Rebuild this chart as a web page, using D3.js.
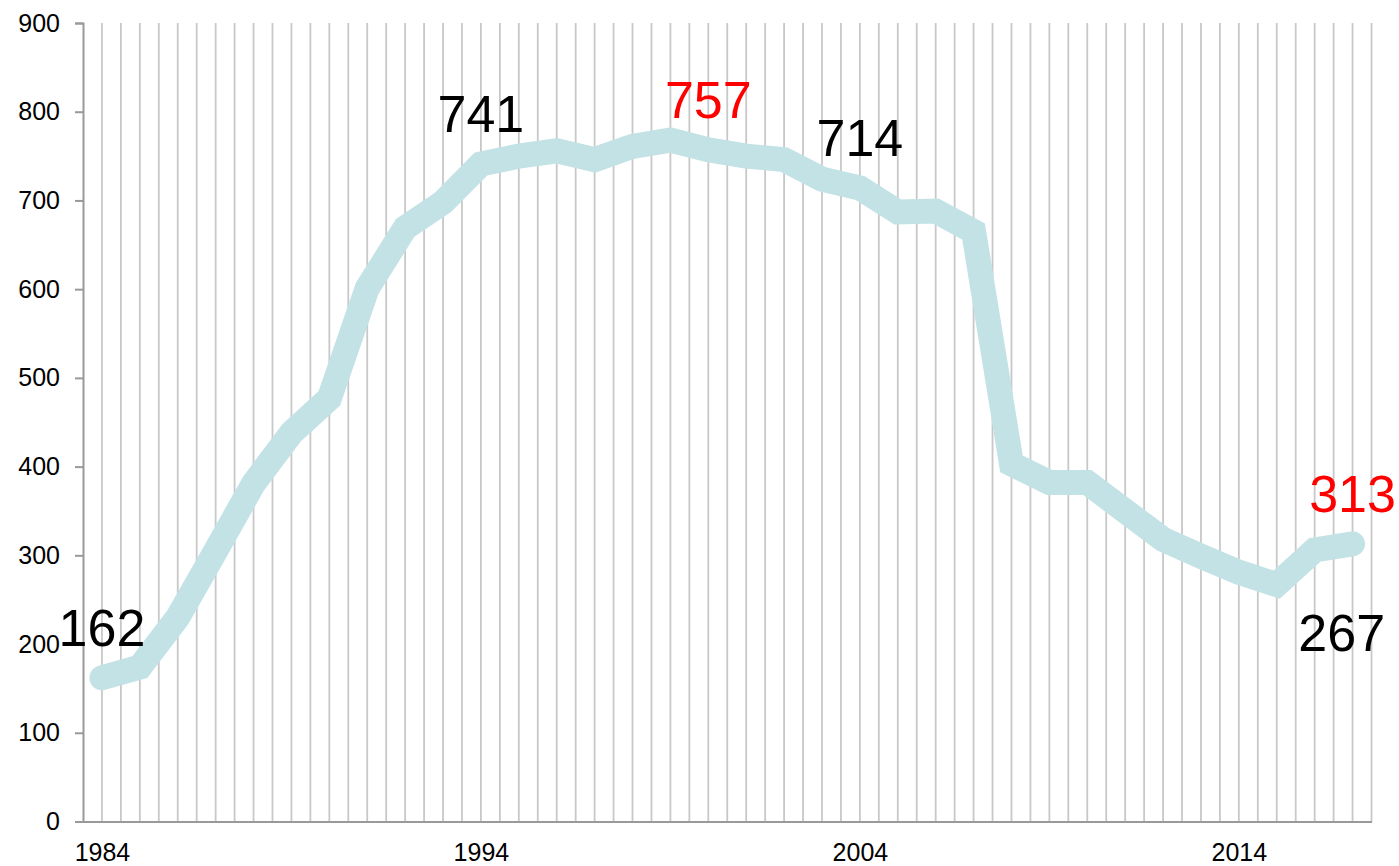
<!DOCTYPE html>
<html>
<head>
<meta charset="utf-8">
<script src="https://cdn.jsdelivr.net/npm/d3@7"></script>
<style>
  body { margin: 0; background: #fff; }
  text { font-family: "Liberation Sans", Arial, sans-serif; }
</style>
</head>
<body>
<div id="chart"></div>
<script>
// yearly values
const years = d3.range(1984, 2018);
const values = [162, 174, 230, 305, 381, 438, 477, 601, 669, 698,
  741, 750, 756, 746, 761, 768, 757, 750, 746, 724,
  714, 687, 688, 665, 403, 382, 382, 350, 318, 299,
  281, 267, 306, 313];
const xTickLabels = [1984, 1994, 2004, 2014];
const yTickValues = [0, 100, 200, 300, 400, 500, 600, 700, 800, 900];
// annotated points
const labelYears = [1984, 1994, 2000, 2004, 2015, 2017];
const labelColors = ["#000", "#000", "#ff0000", "#000", "#000", "#ff0000"];

const data = years.map((y, i) => ({ year: y, value: values[i] }));

const chartWidth = 1399, chartHeight = 866;
const svg = d3.select("#chart").append("svg")
  .attr("width", chartWidth)
  .attr("height", chartHeight);

const xScale = d3.scaleLinear().domain([1983.5, 2017.5]).range([83, 1371.5]);
const yScale = d3.scaleLinear().domain([0, 900]).range([821.5, 23]);

// vertical gridlines every half year
svg.append("g")
  .selectAll("line")
  .data(d3.range(1984, 2017.6, 0.5))
  .join("line")
  .attr("x1", d => xScale(d)).attr("x2", d => xScale(d))
  .attr("y1", yScale(900)).attr("y2", yScale(0))
  .attr("stroke", "#c8c8c8")
  .attr("stroke-width", 1.8);

// y axis
const yAxis = svg.append("g")
  .attr("transform", `translate(${xScale(1983.5)},0)`)
  .call(d3.axisLeft(yScale).tickValues(yTickValues).tickSize(8).tickPadding(15));
yAxis.select(".domain").attr("stroke", "#999").attr("stroke-width", 2);
yAxis.selectAll(".tick line").attr("stroke", "#999").attr("stroke-width", 2);
yAxis.selectAll(".tick text")
  .attr("fill", "#000")
  .style("font-size", "25px");

// x axis
const xAxis = svg.append("g")
  .attr("transform", `translate(0,${yScale(0)})`)
  .call(d3.axisBottom(xScale).tickValues(xTickLabels).tickSize(0).tickPadding(22)
    .tickFormat(d3.format("d")));
xAxis.select(".domain").attr("stroke", "#999").attr("stroke-width", 2);
xAxis.selectAll(".tick text")
  .attr("fill", "#000")
  .style("font-size", "25px");

// the line
const lineGenerator = d3.line()
  .x(d => xScale(d.year))
  .y(d => yScale(d.value));

svg.append("path")
  .datum(data)
  .attr("fill", "none")
  .attr("stroke", "#c3e2e5")
  .attr("stroke-width", 25)
  .attr("stroke-linecap", "round")
  .attr("stroke-linejoin", "miter")
  .attr("d", lineGenerator);

// value labels; the 2015 low is written below and to the right of its point
const belowYear = 2015;
svg.append("g")
  .selectAll("text")
  .data(labelYears.map((y, i) => ({ year: y, value: values[years.indexOf(y)], color: labelColors[i] })))
  .join("text")
  .attr("x", d => xScale(d.year) + (d.year === belowYear ? 65 : 0))
  .attr("y", d => yScale(d.value) + (d.year === belowYear ? 66 : -32))
  .attr("text-anchor", "middle")
  .attr("fill", d => d.color)
  .style("font-size", "52px")
  .text(d => d.value);
</script>
</body>
</html>
